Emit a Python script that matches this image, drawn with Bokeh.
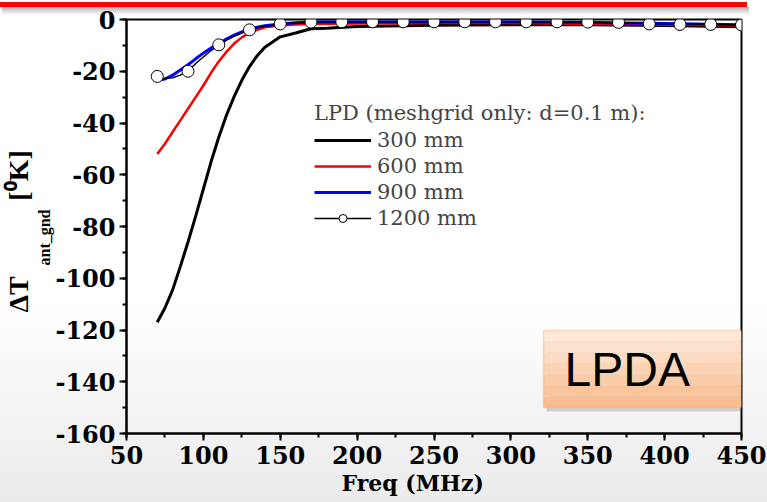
from bokeh.plotting import figure
from bokeh.models import (Range1d, SingleIntervalTicker, Legend, LegendItem,
                          Label, BoxAnnotation, Title, CustomJSTickFormatter)
from bokeh.embed import file_html
from bokeh.resources import INLINE

# ---- data ----
freq = [70, 75, 80, 85, 90, 95, 100, 105, 110, 115, 120, 125, 130, 135, 140,
        150, 160, 170, 180, 200, 250, 300, 350, 400, 450]
t300 = [-117, -111.5, -104.5, -95.5, -86, -76, -65.5, -55, -45.5, -37, -29.8,
        -23.5, -18.2, -14, -10.7, -6.7, -5.2, -3.6, -3.4, -2.7, -2.2, -2.0,
        -2.0, -2.3, -2.8]
t600 = [-52, -48, -43.5, -39, -34.5, -30, -25.5, -20.6, -16.2, -12.5, -9.3,
        -6.9, -5.1, -4, -3, -2.3, -1.9, -1.7, -1.6, -1.5, -1.4, -1.4, -1.6,
        -1.9, -2.3]
t900 = [-23.5, -23, -21.5, -19.5, -17.5, -15.2, -13, -11, -9.3, -7.6, -6,
        -4.8, -3.8, -3, -2.4, -1.7, -1.3, -1.1, -1.0, -1.0, -1.0, -1.0, -1.2,
        -1.5, -2.0]
t1200 = [-23.3, -22.8, -22.5, -21.5, -20, -17, -14.5, -12, -10, -8, -6.5,
         -5.2, -4.1, -3.2, -2.6, -1.8, -1.3, -1.0, -0.9, -0.9, -0.9, -0.9,
         -1.0, -1.6, -2.0]
marker_freq = [70, 90, 110, 130, 150, 170, 190, 210, 230, 250, 270, 290, 310,
               330, 350, 370, 390, 410, 430, 450]
marker_t1200 = [-22, -20, -9.8, -4, -1.7, -1.0, -0.9, -0.9, -0.9, -0.9, -0.9,
                -0.9, -0.9, -0.9, -1.0, -1.1, -1.7, -1.9, -1.9, -2.1]
series_labels = ["300 mm", "600 mm", "900 mm", "1200 mm"]
legend_title = "LPD (meshgrid only: d=0.1 m):"
x_title = "Freq (MHz)"
y_title_main = "ΔT\u2002\u2002\u2002\u2002\u2002\u2009[⁰K]"
y_title_sub = "ant_gnd"
callout = "LPDA"

TICKFONT = "DejaVu Serif"
SERIF = "Liberation Serif"

backdrop = ("linear-gradient(#ff0000, #ff0000) 0px 2px / 747px 5px no-repeat, "
            "linear-gradient(rgba(0,0,0,0.30), rgba(0,0,0,0)) 2px 7px / 747px 8px no-repeat, "
            "linear-gradient(to bottom, #ffffff 0%, #ffffff 60%, #ebebeb 100%)")

p = figure(width=767, height=502, output_backend="svg", toolbar_location=None,
           x_range=Range1d(50, 450), y_range=Range1d(-160, 0),
           min_border_left=125, min_border_right=26, min_border_top=19,
           min_border_bottom=69, styles={"background": backdrop})
p.background_fill_alpha = 0
p.border_fill_alpha = 0
p.grid.visible = False
p.outline_line_color = "black"
p.outline_line_width = 2

p.xaxis.ticker = SingleIntervalTicker(interval=50, num_minor_ticks=2)
p.yaxis.ticker = SingleIntervalTicker(interval=20, num_minor_ticks=2)
for ax in (p.xaxis[0], p.yaxis[0]):
    ax.formatter = CustomJSTickFormatter(code="return tick.toString();")
    ax.axis_line_width = 2
    ax.major_tick_line_width = 2
    ax.minor_tick_line_width = 2
    ax.major_tick_out = 7
    ax.major_tick_in = 0
    ax.minor_tick_out = 4
    ax.minor_tick_in = 0
    ax.major_label_text_font = TICKFONT
    ax.major_label_text_font_style = "bold"
    ax.major_label_text_font_size = "24px"
    ax.major_label_text_color = "black"
p.xaxis[0].major_label_standoff = 5
p.yaxis[0].major_label_standoff = 4

# curves
r300 = p.line(freq, t300, line_color="black", line_width=3)
r600 = p.line(freq, t600, line_color=(255, 0, 0), line_width=2.5)
r900 = p.line(freq, t900, line_color=(0, 0, 255), line_width=3)
r1200 = p.line(freq, t1200, line_color="black", line_width=1.5)
m1200 = p.scatter(marker_freq, marker_t1200, size=12, fill_color="white",
                  line_color="black", line_width=1)

legend = Legend(items=[
    LegendItem(label=series_labels[0], renderers=[r300]),
    LegendItem(label=series_labels[1], renderers=[r600]),
    LegendItem(label=series_labels[2], renderers=[r900]),
    LegendItem(label=series_labels[3], renderers=[r1200, m1200]),
], location=(188, 203), title=legend_title)
legend.background_fill_alpha = 0
legend.border_line_alpha = 0
legend.padding = 0
legend.margin = 0
legend.spacing = 2
legend.glyph_width = 57
legend.glyph_height = 20
legend.label_height = 20
legend.label_standoff = 6
legend.label_text_font = TICKFONT
legend.label_text_font_size = "21px"
legend.title_text_font = TICKFONT
legend.title_text_font_size = "21px"
legend.title_text_font_style = "normal"
legend.title_standoff = 3
p.add_layout(legend)

# LPDA callout box
p.add_layout(BoxAnnotation(left=420, right=619, top=100, bottom=22,
                           left_units="screen", right_units="screen",
                           top_units="screen", bottom_units="screen",
                           fill_color="gray", fill_alpha=0.3, line_alpha=0))
top_c = (253, 234, 218)
bot_c = (250, 190, 145)
nb = 7
for i in range(nb):
    t = i / (nb - 1)
    c = tuple(int(top_c[j] + (bot_c[j] - top_c[j]) * t) for j in range(3))
    tp = 103 - i * 11
    p.add_layout(BoxAnnotation(left=417, right=615, top=tp, bottom=max(tp - 11, 26),
                               left_units="screen", right_units="screen",
                               top_units="screen", bottom_units="screen",
                               fill_color=c, fill_alpha=1, line_alpha=0))
p.add_layout(BoxAnnotation(left=417, right=615, top=103, bottom=26,
                           left_units="screen", right_units="screen",
                           top_units="screen", bottom_units="screen",
                           fill_alpha=0, line_color=(247, 150, 70),
                           line_width=1.5))
p.add_layout(Label(x=438, y=64, x_units="screen", y_units="screen",
                   text=callout, text_font="Liberation Sans",
                   text_font_size="48px", text_baseline="middle",
                   text_color="black"))

# axis titles
p.add_layout(Title(text=x_title, align="left", offset=215, standoff=3,
                   text_font=TICKFONT, text_font_style="bold",
                   text_font_size="22px", text_color="black"), "below")
p.add_layout(Title(text=y_title_sub, align="left", offset=168, standoff=0,
                   text_font=SERIF, text_font_style="bold",
                   text_font_size="16px", text_color="black"), "left")
p.add_layout(Title(text=y_title_main, align="left", offset=121, standoff=0,
                   text_font=SERIF, text_font_style="bold",
                   text_font_size="28px", text_color="black"), "left")

open("out.html", "w").write(file_html(p, INLINE))
